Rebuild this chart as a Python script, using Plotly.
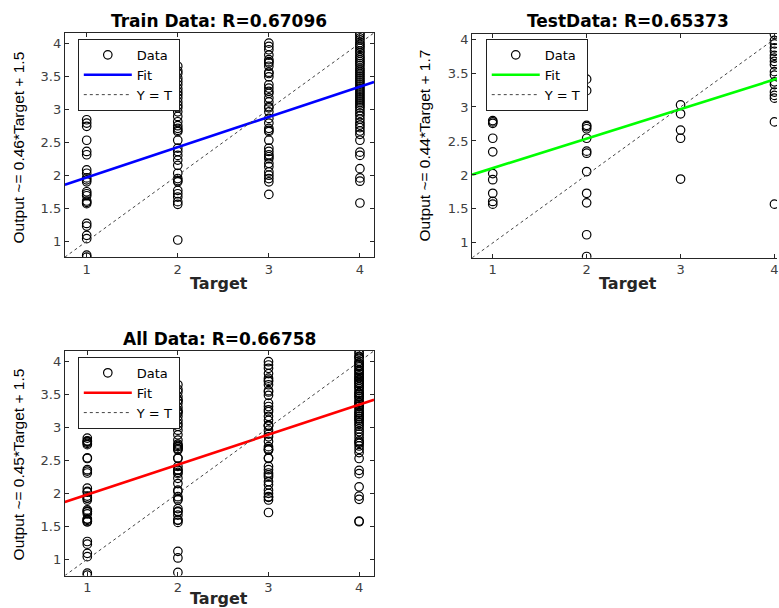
import plotly.graph_objects as go

# ---------------- data ----------------
targets = [1, 2, 3, 4]

train_t1 = [3.38, 3.34, 3.11, 2.84, 2.79, 2.74, 2.53, 2.36, 2.31, 2.08, 2.03, 1.96, 1.93, 1.90,
            1.75, 1.72, 1.69, 1.61, 1.59, 1.57, 1.27, 1.23, 1.09, 1.04, 0.79, 0.76]
train_t2 = [3.65, 3.58, 3.54, 3.47, 3.42, 3.37, 3.31, 3.26, 3.22, 3.17, 3.11, 3.06, 3.02, 2.96,
            2.89, 2.81, 2.75, 2.71, 2.68, 2.66, 2.53, 2.41, 2.36, 2.30, 2.23, 2.15, 2.03, 1.95,
            1.92, 1.90, 1.77, 1.72, 1.67, 1.60, 1.56, 1.02]
train_t3 = [4.00, 3.95, 3.90, 3.82, 3.75, 3.72, 3.70, 3.65, 3.56, 3.54, 3.49, 3.37, 3.32, 3.27,
            3.24, 3.17, 3.11, 3.04, 3.02, 2.96, 2.86, 2.79, 2.71, 2.68, 2.66, 2.53, 2.41, 2.36,
            2.31, 2.28, 2.25, 2.18, 2.13, 2.05, 2.00, 1.95, 1.90, 1.71]
train_t4 = [4.15, 4.12, 4.08, 4.05, 4.01, 3.98, 3.95, 3.92, 3.88, 3.85, 3.81, 3.78, 3.75, 3.72,
            3.69, 3.66, 3.62, 3.59, 3.56, 3.53, 3.50, 3.47, 3.44, 3.41, 3.38, 3.35, 3.32, 3.29,
            3.26, 3.23, 3.20, 3.17, 3.14, 3.11, 3.08, 3.05, 3.02, 2.98, 2.94, 2.90, 2.85, 2.80,
            2.76, 2.72, 2.67, 2.62, 2.53, 2.35, 2.30, 2.10, 1.96, 1.91, 1.58]

test_t1 = [2.80, 2.78, 2.76, 2.54, 2.34, 2.02, 1.93, 1.73, 1.61, 1.57]
test_t2 = [3.41, 3.24, 2.73, 2.71, 2.68, 2.54, 2.35, 2.32, 2.05, 1.73, 1.59, 1.12, 0.80]
test_t3 = [3.03, 2.90, 2.66, 2.54, 1.94]
test_t4 = [4.07, 3.98, 3.93, 3.87, 3.82, 3.76, 3.72, 3.67, 3.62, 3.52, 3.47, 3.37, 3.33,
           3.22, 3.17, 3.13, 2.78, 1.57]

# all data = train + test
all_t1 = train_t1 + test_t1
all_t2 = train_t2 + test_t2
all_t3 = train_t3 + test_t3
all_t4 = train_t4 + test_t4

# fit lines: [slope, intercept]
train_fit = [0.459, 1.506]
test_fit = [0.435, 1.665]
all_fit = [0.455, 1.527]

# axis limits (same for target and output)
train_lim = [0.76, 4.155]
test_lim = [0.78, 4.08]
all_lim = [0.752, 4.165]

titles = ["Train Data: R=0.67096", "TestData: R=0.65373", "All Data: R=0.66758"]
ylabels = ["Output ~= 0.46*Target + 1.5", "Output ~= 0.44*Target + 1.7",
           "Output ~= 0.45*Target + 1.5"]
xlabel = "Target"
legend_names = ["Data", "Fit", "Y = T"]
fit_colors = ["#0000ff", "#00ff00", "#ff0000"]
ytick_vals = [1, 1.5, 2, 2.5, 3, 3.5, 4]
ytick_text = ["1", "1.5", "2", "2.5", "3", "3.5", "4"]

# ---------------- layout helpers ----------------
W, H = 779, 608


def px(x):
    return x / W


def py(y):
    return 1 - y / H


FONT = "DejaVu Sans, Arial, sans-serif"
YFONT = "Liberation Sans, Arial, Helvetica, sans-serif"
AXC = "#262626"

panels = [
    dict(cols=[train_t1, train_t2, train_t3, train_t4], fit=train_fit, lim=train_lim,
         xpx=[65, 375], ypx=[256, 31], legend="legend"),
    dict(cols=[test_t1, test_t2, test_t3, test_t4], fit=test_fit, lim=test_lim,
         xpx=[473.3, 784], ypx=[256.7, 31.7], legend="legend2"),
    dict(cols=[all_t1, all_t2, all_t3, all_t4], fit=all_fit, lim=all_lim,
         xpx=[65, 375], ypx=[575.5, 350], legend="legend3"),
]

fig = go.Figure()
layout = dict(
    width=W, height=H,
    margin=dict(l=0, r=0, t=0, b=0),
    paper_bgcolor="white", plot_bgcolor="white",
    font=dict(family=FONT, size=13, color=AXC),
    showlegend=True,
)

for i, p in enumerate(panels):
    sfx = "" if i == 0 else str(i + 1)
    xa, ya = "x" + sfx, "y" + sfx
    lo, hi = p["lim"]
    xs, ys = [], []
    for t, col in zip(targets, p["cols"]):
        xs += [t] * len(col)
        ys += col
    fig.add_trace(go.Scatter(
        x=xs, y=ys, mode="markers", name=legend_names[0],
        marker=dict(symbol="circle-open", size=8.5, color="black", line=dict(width=1.2)),
        xaxis=xa, yaxis=ya, legend=p["legend"]))
    slope, icpt = p["fit"]
    fig.add_trace(go.Scatter(
        x=[lo, hi], y=[slope * lo + icpt, slope * hi + icpt], mode="lines",
        name=legend_names[1], line=dict(color=fit_colors[i], width=2.6),
        xaxis=xa, yaxis=ya, legend=p["legend"]))
    fig.add_trace(go.Scatter(
        x=[lo, hi], y=[lo, hi], mode="lines", name=legend_names[2],
        line=dict(color="#444444", width=1, dash="dot"),
        xaxis=xa, yaxis=ya, legend=p["legend"]))

    left_px, right_px = p["xpx"]
    if right_px > W:  # test panel runs past the window edge
        xr = [lo, lo + (W - left_px) / (right_px - left_px) * (hi - lo)]
        xd = [px(left_px), 1.0]
    else:
        xr = [lo, hi]
        xd = [px(left_px), px(right_px)]
    yd = [py(p["ypx"][0]), py(p["ypx"][1])]

    common = dict(showgrid=False, zeroline=False, showline=True, linecolor=AXC, linewidth=1,
                  ticks="inside", ticklen=4, tickcolor=AXC, tickwidth=1,
                  tickfont=dict(family=FONT, size=13, color="#404040"))
    layout["xaxis" + sfx] = dict(domain=xd, range=xr, anchor=ya, mirror="ticks",
                                 ticklabeloverflow="allow",
                                 tickvals=targets, ticktext=[str(t) for t in targets], **common)
    layout["yaxis" + sfx] = dict(domain=yd, range=[lo, hi], anchor=xa,
                                 mirror=("ticks" if i != 1 else False),
                                 tickvals=ytick_vals, ticktext=ytick_text, **common)

legend_common = dict(xanchor="left", yanchor="top", bgcolor="white", bordercolor="#202020",
                     borderwidth=1, font=dict(family=FONT, size=13, color="black"),
                     tracegroupgap=0, itemwidth=48)
layout["legend"] = dict(x=px(78), y=py(37), **legend_common)
layout["legend2"] = dict(x=px(487), y=py(37), **legend_common)
layout["legend3"] = dict(x=px(78), y=py(356), **legend_common)

ann = []
title_pos = [(220, 19), (630, 19), (220, 338)]
xlab_pos = [(220, 282), (630, 282), (220, 598)]
ylab_pos = [(19, 146), (426, 144), (19, 464)]
for i in range(3):
    ann.append(dict(text="<b>%s</b>" % titles[i], x=px(title_pos[i][0]), y=py(title_pos[i][1]),
                    xref="paper", yref="paper", showarrow=False, xanchor="center",
                    yanchor="middle", font=dict(family=FONT, size=17, color="black")))
    ann.append(dict(text="<b>%s</b>" % xlabel, x=px(xlab_pos[i][0]), y=py(xlab_pos[i][1]),
                    xref="paper", yref="paper", showarrow=False, xanchor="center",
                    yanchor="middle", font=dict(family=FONT, size=16, color=AXC)))
    ann.append(dict(text=ylabels[i], x=px(ylab_pos[i][0]), y=py(ylab_pos[i][1]),
                    xref="paper", yref="paper", showarrow=False, xanchor="center",
                    yanchor="middle", textangle=-90,
                    font=dict(family=YFONT, size=15.5, color="black")))
layout["annotations"] = ann

fig.update_layout(**layout)
# remove the default page margin so the figure fills the window exactly
fig.write_html("out.html",
               config={"displayModeBar": False},
               post_script="document.body.style.margin='0';"
                           "document.body.style.overflow='hidden';")
